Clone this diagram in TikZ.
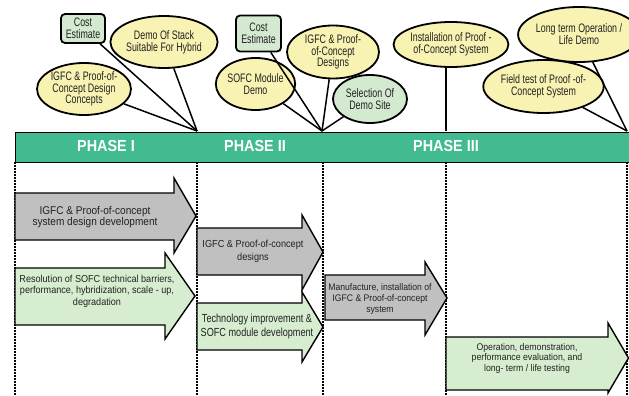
\documentclass[tikz,border=0pt]{standalone}
\usepackage{fontspec}
\setmainfont{Liberation Sans}[FakeStretch=0.85]
\newfontfamily\fA{Liberation Sans}[FakeStretch=0.78]
\newfontfamily\fB{Liberation Sans}[FakeStretch=0.9]
\newfontfamily\fC{Liberation Sans}[FakeStretch=0.72]
\usetikzlibrary{shapes.geometric}
\definecolor{phasegreen}{HTML}{41BB8F}
\definecolor{callyellow}{HTML}{F8F3B2}
\definecolor{callgreen}{HTML}{D4EAD0}
\definecolor{arrgray}{HTML}{C0C0C0}
\definecolor{arrgreen}{HTML}{D6EDCF}
\definecolor{txt}{HTML}{222222}
\tikzset{
  x=1pt,y=-1pt,
  oval/.style={ellipse,draw=black,line width=1.8pt,fill=callyellow,inner sep=0pt,align=center,font=\fC\fontsize{12.3}{11.8}\selectfont,text=txt},
  ovalgreen/.style={oval,fill=callgreen},
  boxcall/.style={draw=black,line width=1.8pt,fill=callgreen,rounded corners=4pt,inner sep=0pt,align=center,font=\fC\fontsize{12.3}{11.8}\selectfont,text=txt},
  callline/.style={line width=1.5pt,black},
  blockgray/.style={draw=black,line width=1.4pt,fill=arrgray},
  blockgreen/.style={draw=black,line width=1.4pt,fill=arrgreen},
  arrtext/.style={align=center,text=txt,inner sep=0pt},
  phasetext/.style={text=white,font=\fB\bfseries\fontsize{16}{16}\selectfont},
  divider/.style={line width=1.5pt,dash pattern=on 1.5pt off 1.5pt},
}
\begin{document}
\begin{tikzpicture}
\useasboundingbox (0,0) rectangle (629,396);
% phase bar
\node[draw=black,line width=1pt,fill=phasegreen,minimum width=615pt,minimum height=30pt,inner sep=0pt,anchor=north west] (bar) at (14.5,131.5) {};
\node[phasetext] (ph1) at (106,146) {PHASE I};
\node[phasetext] (ph2) at (255,146) {PHASE II};
\node[phasetext] (ph3) at (446,146) {PHASE III};
% dividers
\foreach \x/\n in {15/d0,197/d1,323/d2,446/d3,627/d4}{
  \coordinate (\n t) at (\x,162);
  \coordinate (\n b) at (\x,396);
  \draw[divider] (\n t) -- (\n b);
}
% convergence points
\coordinate (c1) at (197,131);
\coordinate (c2) at (322,131);
\coordinate (c3) at (446,131);
\coordinate (c4) at (627,131);
% phase I callouts
\node[boxcall,minimum width=44pt,minimum height=29pt] (cost1) at (83,28.5) {Cost\\Estimate};
\node[oval,minimum width=92pt,minimum height=52pt] (demo) at (164,42) {Demo Of Stack\\Suitable For Hybrid};
\node[oval,minimum width=75pt,minimum height=52pt] (igfc1) at (84,89) {IGFC \& Proof-of-\\Concept Design\\Concepts};
\draw[callline] (cost1) -- (c1);
\draw[callline] (demo) -- (c1);
\draw[callline] (igfc1) -- (c1);
% phase II callouts
\node[boxcall,minimum width=45pt,minimum height=36pt] (cost2) at (258.5,33.5) {Cost\\Estimate};
\node[oval,minimum width=92pt,minimum height=53pt] (igfc2) at (333,52) {IGFC \& Proof-\\of-Concept\\Designs};
\node[oval,minimum width=75pt,minimum height=52pt] (sofc) at (255.5,84) {SOFC Module\\Demo};
\node[ovalgreen,minimum width=74pt,minimum height=48pt] (sel) at (370,99) {Selection Of\\Demo Site};
\draw[callline] (cost2) -- (c2);
\draw[callline] (igfc2) -- (c2);
\draw[callline] (sofc) -- (c2);
\draw[callline] (sel) -- (c2);
% phase III callouts
\node[oval,minimum width=92pt,minimum height=45pt] (inst) at (451,44.5) {Installation of Proof -\\of-Concept System};
\coordinate (instb) at (446,67);
\draw[callline] (instb) -- (c3);
\node[oval,minimum width=88pt,minimum height=55pt] (long) at (579,34.5) {Long term Operation /\\Life Demo};
\node[oval,minimum width=93pt,minimum height=53pt] (field) at (543.5,86.5) {Field test of Proof -of-\\Concept System};
\draw[callline] (long) -- (c4);
\draw[callline] (field) -- (c4);
% block arrows
\draw[blockgray] (15,193) -- (174,193) -- (174,178) -- (196,216) -- (174,253) -- (174,240) -- (15,240) -- cycle;
\node[arrtext,font=\fB\fontsize{11.2}{11.7}\selectfont] (a1) at (95,217) {IGFC \& Proof-of-concept\\system design development};
\draw[blockgreen] (15,268) -- (165,268) -- (165,253) -- (195,296) -- (165,339) -- (165,325) -- (15,325) -- cycle;
\node[arrtext,font=\fB\fontsize{10.1}{11.5}\selectfont] (a6) at (97,291) {Resolution of SOFC technical barriers,\\performance, hybridization, scale - up,\\degradation};
\draw[blockgray] (197,228) -- (302,228) -- (302,215) -- (323,252) -- (302,290) -- (302,275) -- (197,275) -- cycle;
\node[arrtext,font=\fB\fontsize{10.2}{13}\selectfont] (a2) at (253,251) {IGFC \& Proof-of-concept\\designs};
\draw[blockgreen] (197,303) -- (302,303) -- (302,292) -- (323,327) -- (302,362) -- (302,350) -- (197,350) -- cycle;
\node[arrtext,font=\fA\fontsize{11.7}{14}\selectfont] (a3) at (257,326) {Technology improvement \&\\SOFC module development};
\draw[blockgray] (325,275) -- (425,275) -- (425,262) -- (447,298) -- (425,335) -- (425,320) -- (325,320) -- cycle;
\node[arrtext,font=\fB\fontsize{9.6}{11.3}\selectfont] (a4) at (380,299) {Manufacture, installation of\\IGFC \& Proof-of-concept\\system};
\draw[blockgreen] (446,337) -- (608,337) -- (608,323) -- (628.5,358) -- (608,393) -- (608,390) -- (446,390) -- cycle;
\node[arrtext,font=\fB\fontsize{9.7}{10.5}\selectfont] (a5) at (527,358) {Operation, demonstration,\\performance evaluation, and\\long- term / life testing};
\end{tikzpicture}
\end{document}
